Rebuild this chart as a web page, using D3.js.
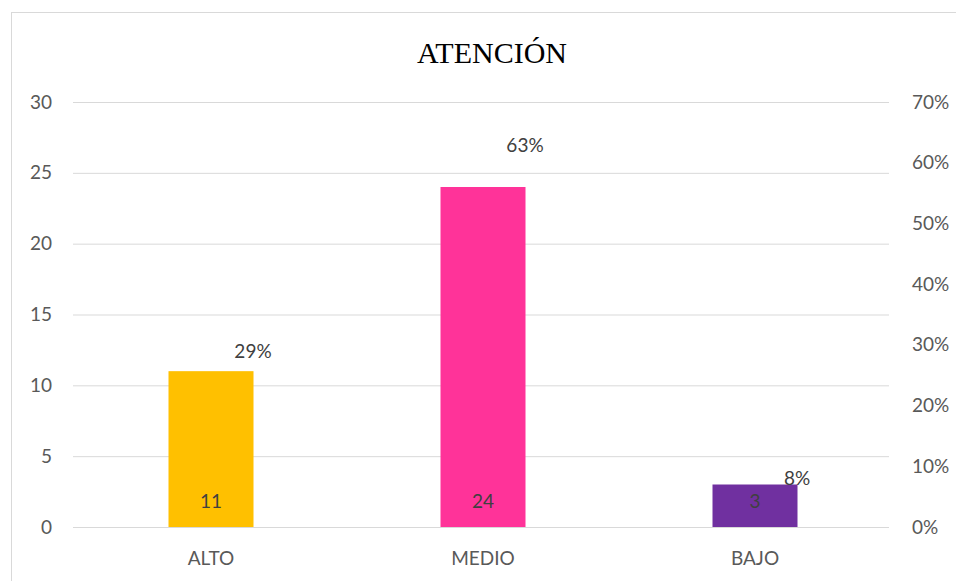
<!DOCTYPE html>
<html>
<head>
<meta charset="utf-8">
<script src="https://cdn.jsdelivr.net/npm/d3@7"></script>
<style>
  body { margin: 0; background: #fff; }
  text { font-family: Lato, "Open Sans", sans-serif; }
</style>
</head>
<body>
<div id="chart"></div>
<script>
var width = 956,
  height = 581;

// data
var categories = ["ALTO", "MEDIO", "BAJO"];
var counts = [11, 24, 3];
var percents = [0.29, 0.63, 0.08];
var colors = ["#FFC000", "#FF3399", "#7030A0"];
var leftTicks = [0, 5, 10, 15, 20, 25, 30];
var rightTicks = [0, 0.1, 0.2, 0.3, 0.4, 0.5, 0.6, 0.7];

var svg = d3.select("#chart").append("svg")
  .attr("width", width)
  .attr("height", height);

// chart frame
svg.append("rect")
  .attr("x", 11.5).attr("y", 12.5)
  .attr("width", 1000).attr("height", 1000)
  .attr("fill", "none")
  .attr("stroke", "#d9d9d9");

// title
svg.append("text")
  .attr("x", 492).attr("y", 63)
  .attr("text-anchor", "middle")
  .style("font-family", "'Liberation Serif', 'Times New Roman', serif")
  .style("font-size", "30px")
  .attr("fill", "#000")
  .text("ATENCIÓN");

var x = d3.scaleBand()
  .domain(categories)
  .range([75, 891])
  .paddingInner(0.6875)
  .paddingOuter(0.34375);

var y = d3.scaleLinear().domain([0, 30]).range([527, 102]);
var yR = d3.scaleLinear().domain([0, 0.7]).range([527, 102]);

// gridlines
svg.append("g").selectAll("line")
  .data(leftTicks)
  .enter().append("line")
  .attr("x1", 73).attr("x2", 889)
  .attr("y1", function(d) { return y(d) + 0.5; })
  .attr("y2", function(d) { return y(d) + 0.5; })
  .attr("stroke", "#d9d9d9")
  .attr("stroke-width", 1);

// left axis
var leftAxis = svg.append("g")
  .attr("transform", "translate(52,0)")
  .call(d3.axisLeft(y).tickValues(leftTicks).tickSize(0).tickPadding(0));
leftAxis.select(".domain").remove();
leftAxis.selectAll("text")
  .style("font-size", "19px")
  .style("font-family", "Lato, sans-serif")
  .attr("fill", "#595959");

// right axis
var rightAxis = svg.append("g")
  .attr("transform", "translate(912,0)")
  .call(d3.axisRight(yR).tickValues(rightTicks).tickSize(0).tickPadding(0)
    .tickFormat(d3.format(".0%")));
rightAxis.select(".domain").remove();
rightAxis.selectAll("text")
  .style("font-size", "19px")
  .style("font-family", "Lato, sans-serif")
  .attr("fill", "#595959");

// bars
var data = categories.map(function(c, i) {
  return { cat: c, n: counts[i], p: percents[i], color: colors[i] };
});

svg.append("g").selectAll("rect")
  .data(data)
  .enter().append("rect")
  .attr("x", function(d) { return x(d.cat); })
  .attr("y", function(d) { return y(d.n); })
  .attr("width", x.bandwidth())
  .attr("height", function(d) { return y(0) - y(d.n); })
  .attr("fill", function(d) { return d.color; });

// count labels inside bars
svg.append("g").selectAll("text")
  .data(data)
  .enter().append("text")
  .attr("x", function(d) { return x(d.cat) + x.bandwidth() / 2; })
  .attr("y", y(0) - 19)
  .attr("text-anchor", "middle")
  .style("font-size", "19px")
  .attr("fill", "#404040")
  .text(function(d) { return d.n; });

// percent labels
svg.append("g").selectAll("text")
  .data(data)
  .enter().append("text")
  .attr("x", function(d) { return x(d.cat) + x.bandwidth() / 2 + 42; })
  .attr("y", function(d) { return yR(d.p) + 7; })
  .attr("text-anchor", "middle")
  .style("font-size", "19px")
  .attr("fill", "#404040")
  .text(function(d) { return Math.round(d.p * 100) + "%"; });

// category labels
var xAxis = svg.append("g")
  .attr("transform", "translate(0,565)")
  .call(d3.axisBottom(x).tickSize(0).tickPadding(0));
xAxis.select(".domain").remove();
xAxis.selectAll("text")
  .attr("dy", 0)
  .style("font-size", "19px")
  .style("font-family", "Lato, sans-serif")
  .attr("fill", "#595959");
</script>
</body>
</html>
